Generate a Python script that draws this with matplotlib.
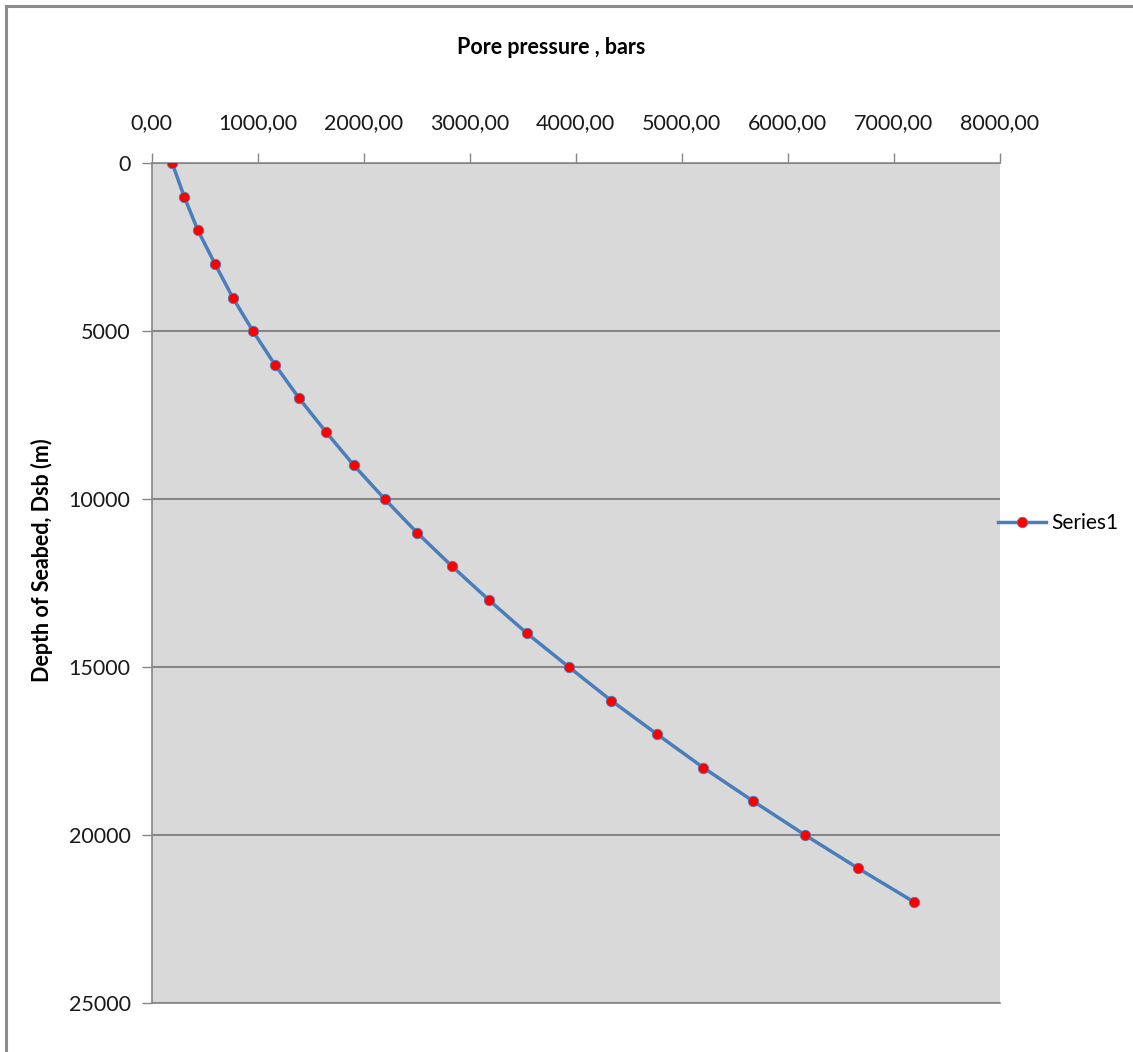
import matplotlib
matplotlib.use("Agg")
import matplotlib.pyplot as plt
from matplotlib.lines import Line2D
from matplotlib.ticker import FuncFormatter, MultipleLocator

plt.rcParams['font.family'] = ['Lato', 'DejaVu Sans']

# Depth below seabed (m) and corresponding pore pressure (bars)
depth_m = [0, 1000, 2000, 3000, 4000, 5000, 6000, 7000, 8000, 9000, 10000,
           11000, 12000, 13000, 14000, 15000, 16000, 17000, 18000, 19000,
           20000, 21000, 22000]
pore_pressure_bar = [196, 309, 438, 599, 766, 957, 1164, 1392, 1645, 1909,
                     2199, 2503, 2833, 3179, 3540, 3934, 4334, 4765, 5203,
                     5674, 6159, 6664, 7189]
series_name = "Series1"

W, H = 1133, 1052
fig = plt.figure(figsize=(W / 100, H / 100), dpi=100)
ax = fig.add_axes([151.5 / W, 1 - 1002.7 / H, (1000 - 151.5) / W, (1002.7 - 163.3) / H])

ax.set_facecolor('#D9D9D9')
ax.plot(pore_pressure_bar, depth_m, color='#4A7EBB', lw=2.5,
        marker='o', ms=7.5, mfc='#FF0000', mec='#4A7EBB', mew=0.6,
        label=series_name, zorder=3)

ax.set_xlim(0, 8000)
ax.set_ylim(25000, 0)
ax.xaxis.set_major_locator(MultipleLocator(1000))
ax.yaxis.set_major_locator(MultipleLocator(5000))
ax.xaxis.set_major_formatter(FuncFormatter(lambda v, p: f"{v:.2f}".replace('.', ',')))
ax.yaxis.set_major_formatter(FuncFormatter(lambda v, p: f"{int(v)}"))
ax.xaxis.tick_top()
ax.tick_params(axis='both', direction='out', length=7, width=1, color='#868686',
               labelsize=15.5, labelcolor='#1a1a1a')
ax.tick_params(axis='x', pad=15)
ax.tick_params(axis='y', pad=8)

ax.grid(axis='y', color='#868686', lw=1.5)
ax.set_axisbelow(True)
for side in ('left', 'top', 'bottom'):
    ax.spines[side].set_color('#868686')
    ax.spines[side].set_linewidth(1.2)
ax.spines['right'].set_visible(False)

fig.text(551 / W, 1 - 47 / H, "Pore pressure , bars", ha='center', va='center',
         fontsize=15.5, fontweight='bold')
fig.text(42 / W, 1 - 560 / H, "Depth of Seabed, Dsb (m)", ha='center', va='center',
         rotation=90, fontsize=15.5, fontweight='bold')

leg = ax.legend(loc='center left', bbox_to_anchor=(1.0 - 2 / 848.5, 1 - (523 - 163.3) / 839.4),
                frameon=False, fontsize=15, handlelength=2.3, handletextpad=0.25,
                borderaxespad=0, borderpad=0)

# chart area border (top and left edges)
fig.add_artist(Line2D([6 / W, 6 / W], [0, 1 - 6 / H], color='#8C8C8C', lw=2.2,
                      transform=fig.transFigure))
fig.add_artist(Line2D([6 / W, 1], [1 - 6 / H, 1 - 6 / H], color='#8C8C8C', lw=2.2,
                      transform=fig.transFigure))

fig.savefig("out.png", dpi=100, facecolor='white')
